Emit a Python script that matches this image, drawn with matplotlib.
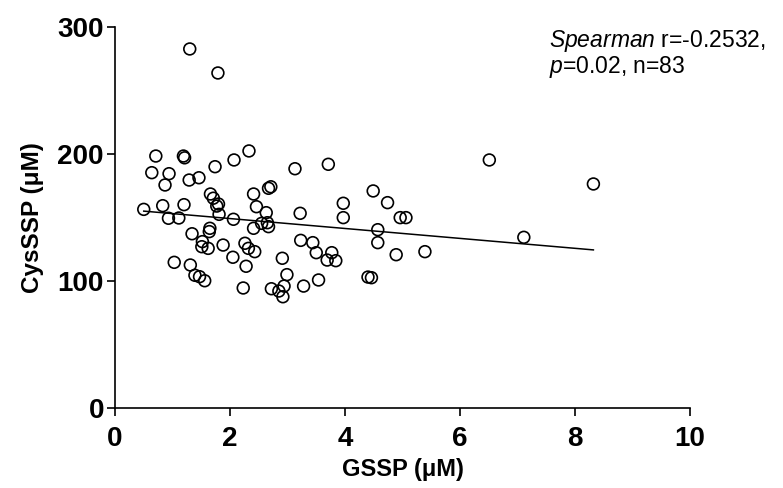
import numpy as np
import matplotlib
matplotlib.use("Agg")
import matplotlib.pyplot as plt

plt.rcParams['font.family'] = ['Liberation Sans', 'DejaVu Sans']
plt.rcParams['mathtext.fontset'] = 'custom'
plt.rcParams['mathtext.it'] = 'Liberation Sans:italic'
plt.rcParams['mathtext.rm'] = 'Liberation Sans'

gssp = [0.71, 1.19, 1.21, 2.33, 2.07, 1.74, 0.64, 0.94, 3.13, 0.87,
        1.29, 1.46, 1.66, 1.71, 2.41, 2.67, 2.71, 0.50, 0.83, 1.20,
        1.80, 1.77, 2.46, 1.81, 2.63, 3.22, 0.93, 1.11, 2.06, 2.41,
        2.55, 2.65, 2.67, 1.34, 1.65, 1.64, 3.23, 1.52, 1.51, 1.62,
        1.88, 2.26, 2.32, 2.43, 1.03, 1.31, 2.05, 2.28, 2.91, 1.39,
        1.47, 1.56, 2.99, 2.23, 2.72, 2.85, 2.92, 2.94, 3.28, 3.71,
        4.49, 4.74, 3.97, 3.97, 4.96, 5.06, 4.57, 4.57, 3.44, 3.50,
        3.77, 3.69, 3.84, 4.89, 3.54, 4.40, 4.46, 5.39, 6.51, 7.11,
        8.32, 1.30, 1.79]
cysssp = [198.4, 198.4, 197.0, 202.4, 195.3, 190.0, 185.3, 184.5, 188.4, 175.6,
          179.5, 181.3, 168.5, 165.2, 168.5, 173.0, 174.2, 156.4, 159.3, 160.1,
          160.6, 159.0, 158.5, 152.5, 153.8, 153.3, 149.4, 149.6, 148.6, 141.5,
          145.4, 145.9, 142.8, 137.2, 141.5, 138.9, 132.0, 131.0, 127.0, 125.7,
          128.3, 129.7, 125.7, 123.1, 114.7, 112.6, 118.7, 111.6, 117.9, 104.5,
          103.4, 100.2, 105.0, 94.5, 93.9, 92.1, 87.6, 96.0, 96.0, 191.9,
          170.9, 161.7, 161.2, 149.9, 149.9, 149.9, 140.4, 130.2, 130.2, 122.3,
          122.3, 116.5, 116.0, 120.7, 100.8, 103.1, 102.6, 123.1, 195.3, 134.4,
          176.4, 282.7, 263.8]

x_ticks = [0, 2, 4, 6, 8, 10]
y_ticks = [0, 100, 200, 300]

x = np.array(gssp)
y = np.array(cysssp)

fig = plt.figure(figsize=(7.83, 4.88), dpi=100)
ax = fig.add_axes([115/783, 1-408/488, 575/783, 381/488])

ax.scatter(x, y, s=72, facecolors='none', edgecolors='black', linewidths=1.2, zorder=3, clip_on=False)

slope, intercept = np.polyfit(x, y, 1)
xl = np.array([x.min(), x.max()])
ax.plot(xl, slope*xl + intercept, color='black', lw=1.1, zorder=2)

ax.set_xlim(0, 10)
ax.set_ylim(0, 300)
ax.set_xticks(x_ticks)
ax.set_yticks(y_ticks)
for s in ['top', 'right']:
    ax.spines[s].set_visible(False)
for s in ['left', 'bottom']:
    ax.spines[s].set_linewidth(1.2)
ax.tick_params(direction='out', length=6, width=1.2, labelsize=20, pad=2)
ax.tick_params(axis='x', pad=7)
for lab in ax.get_xticklabels() + ax.get_yticklabels():
    lab.set_fontweight('bold')

ax.set_xlabel('GSSP (μM)', fontsize=17, fontweight='bold', labelpad=4)
ax.set_ylabel('CysSSP (μM)', fontsize=17.5, fontweight='bold', labelpad=10)

fig.text(549/783, 1-41/488, r'$\mathit{Spearman}$ r=-0.2532,', fontsize=16.5, va='center', ha='left')
fig.text(549/783, 1-67/488, r'$\mathit{p}$=0.02, n=83', fontsize=16.5, va='center', ha='left')

fig.savefig('out.png', dpi=100)
